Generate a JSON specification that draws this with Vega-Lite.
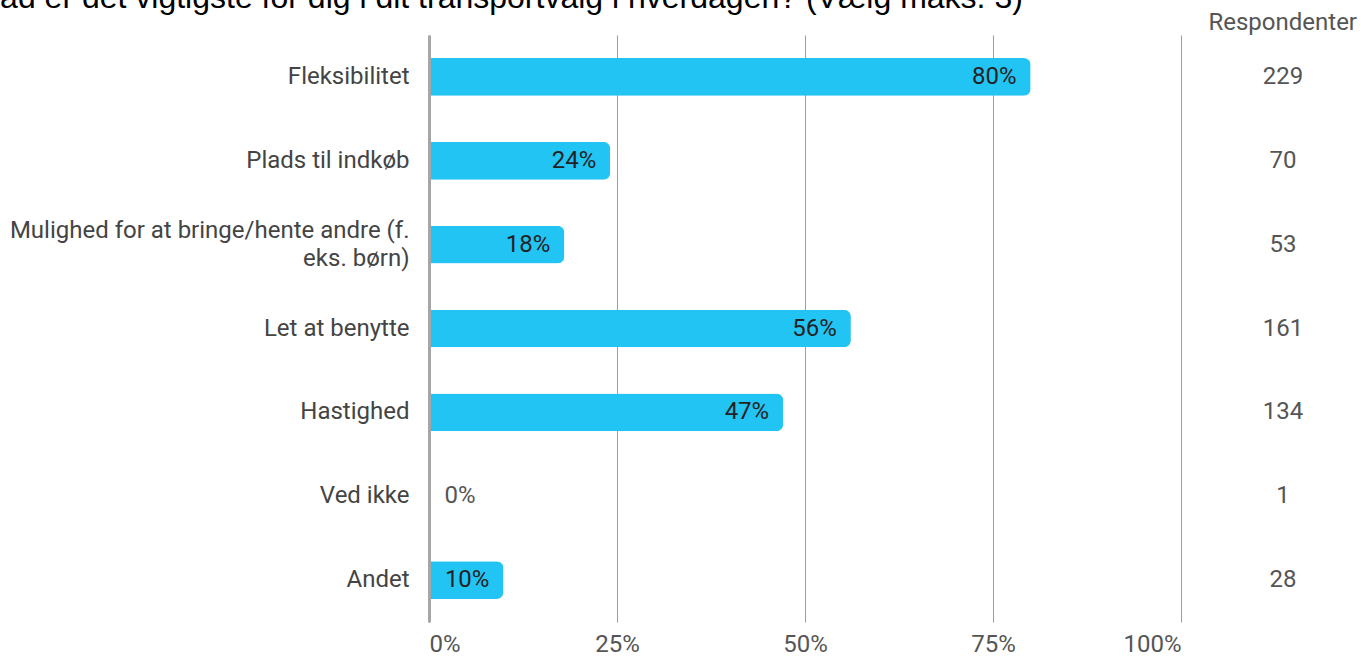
{
  "$schema": "https://vega.github.io/schema/vega-lite/v6.json",
  "autosize": {"type": "none"},
  "padding": {"left": 429, "top": 35, "right": 932, "bottom": 621},
  "background": "white",
  "title": {
    "text": "Hvad er det vigtigste for dig i dit transportvalg i hverdagen? (Vælg maks. 3)",
    "anchor": "start",
    "frame": "group",
    "font": "Liberation Sans",
    "fontSize": 32,
    "fontWeight": "normal",
    "color": "#000000",
    "dx": -468,
    "dy": 4,
    "offset": 0
  },
  "data": {
    "values": [
      {"kategori": "Fleksibilitet", "andel": 0.8, "respondenter": 229},
      {"kategori": "Plads til indkøb", "andel": 0.241, "respondenter": 70},
      {"kategori": "Mulighed for at bringe/hente andre (f. eks. børn)", "andel": 0.18, "respondenter": 53},
      {"kategori": "Let at benytte", "andel": 0.561, "respondenter": 161},
      {"kategori": "Hastighed", "andel": 0.471, "respondenter": 134},
      {"kategori": "Ved ikke", "andel": 0.002, "respondenter": 1},
      {"kategori": "Andet", "andel": 0.099, "respondenter": 28}
    ]
  },
  "spacing": 0,
  "hconcat": [
    {
      "width": 752,
      "height": 587,
      "encoding": {
        "y": {
          "field": "kategori",
          "type": "nominal",
          "sort": null,
          "scale": {"paddingInner": 0.55, "paddingOuter": 0.275},
          "axis": {
            "title": null,
            "zindex": 1,
            "domain": true,
            "domainColor": "#a6a6a6",
            "domainWidth": 3,
            "ticks": false,
            "labelPadding": 20,
            "labelFont": "Roboto",
            "labelFontSize": 24,
            "labelColor": "#444444",
            "labelLimit": 600,
            "labelLineHeight": 28,
            "labelOffset": {
              "condition": {"test": "datum.value == 'Mulighed for at bringe/hente andre (f. eks. børn)'", "value": -14},
              "value": 0
            },
            "labelExpr": "datum.value == 'Mulighed for at bringe/hente andre (f. eks. børn)' ? ['Mulighed for at bringe/hente andre (f.', 'eks. børn)'] : datum.value"
          }
        }
      },
      "layer": [
        {
          "mark": {"type": "bar", "color": "#22C4F4", "cornerRadiusEnd": 7},
          "encoding": {
            "x": {
              "field": "andel",
              "type": "quantitative",
              "scale": {"domain": [0, 1]},
              "axis": {
                "title": null,
                "values": [0, 0.25, 0.5, 0.75, 1],
                "format": ".0%",
                "grid": true,
                "gridColor": "#9e9e9e",
                "gridWidth": 1,
                "domain": false,
                "ticks": false,
                "labelFlush": true,
                "labelFont": "Roboto",
                "labelFontSize": 24,
                "labelColor": "#555555",
                "labelPadding": 10
              }
            }
          }
        },
        {
          "transform": [{"filter": "datum.andel >= 0.01"}],
          "mark": {"type": "text", "align": "right", "dx": -14, "font": "Roboto", "fontSize": 24, "color": "#222222"},
          "encoding": {
            "x": {"field": "andel", "type": "quantitative"},
            "text": {"field": "andel", "type": "quantitative", "format": ".0%"}
          }
        },
        {
          "transform": [{"filter": "datum.andel < 0.01"}],
          "mark": {"type": "text", "align": "left", "dx": 14, "font": "Roboto", "fontSize": 24, "color": "#555555"},
          "encoding": {
            "x": {"field": "andel", "type": "quantitative"},
            "text": {"field": "andel", "type": "quantitative", "format": ".0%"}
          }
        }
      ]
    },
    {
      "width": 204,
      "height": 587,
      "title": {
        "text": "Respondenter",
        "anchor": "end",
        "frame": "group",
        "font": "Roboto",
        "fontSize": 24,
        "fontWeight": "normal",
        "color": "#555555",
        "dx": -28,
        "offset": 0
      },
      "mark": {"type": "text", "font": "Roboto", "fontSize": 24, "color": "#555555"},
      "encoding": {
        "y": {"field": "kategori", "type": "nominal", "sort": null, "axis": null},
        "text": {"field": "respondenter", "type": "quantitative"}
      }
    }
  ],
  "config": {
    "view": {"stroke": null}
  }
}
